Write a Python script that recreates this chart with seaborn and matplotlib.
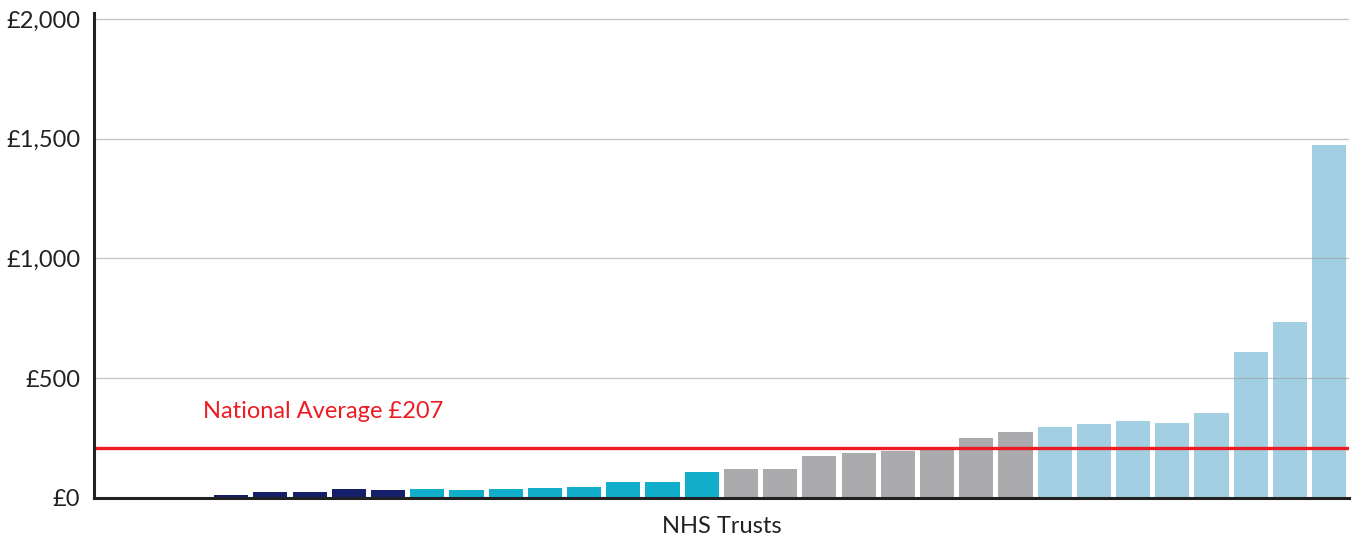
import matplotlib
matplotlib.use("Agg")
import matplotlib.pyplot as plt
import seaborn as sns
import pandas as pd

# Cost per NHS trust, sorted ascending, grouped into quartiles
trust_ids = [f"T{i + 1:02d}" for i in range(32)]
costs = [0, 0, 0, 14, 24, 24, 36, 32,
         36, 32, 36, 43, 47, 68, 68, 110,
         122, 122, 177, 189, 198, 206, 252, 277,
         298, 310, 323, 314, 356, 611, 736, 1475]
quartiles = ["Q1"] * 8 + ["Q2"] * 8 + ["Q3"] * 8 + ["Q4"] * 8
quartile_colors = {"Q1": "#16206a", "Q2": "#10aecb", "Q3": "#ababad", "Q4": "#a2d0e2"}

national_average = 207
y_ticks = [0, 500, 1000, 1500, 2000]
y_tick_labels = ["£0", "£500", "£1,000", "£1,500", "£2,000"]

df = pd.DataFrame({"trust": trust_ids, "cost": costs, "quartile": quartiles})

sns.set_theme(style="white")
plt.rcParams["font.family"] = ["Lato", "DejaVu Sans"]

fig = plt.figure(figsize=(13.58, 5.41), dpi=100)
ax = fig.add_axes([0.0692, 0.0795, 0.924, 0.8965])

sns.barplot(data=df, x="trust", y="cost", hue="quartile", palette=quartile_colors,
            order=trust_ids, dodge=False, width=0.87, legend=False,
            linewidth=0, saturation=1, ax=ax, zorder=2)

ax.set_xlim(-0.5, 31.5)
ax.set_ylim(0, 2025)

# horizontal gridlines drawn over the bars
for t in y_ticks[1:]:
    ax.axhline(t, color="#9a9a9a", lw=1.0, alpha=0.55, zorder=3)

ax.axhline(national_average, color="#ed1c24", lw=2.4, zorder=4)
ax.text(2.28, 360, f"National Average £{national_average}", color="#ed1c24",
        fontsize=17, ha="left", va="center", zorder=5)

ax.set_yticks(y_ticks)
ax.set_yticklabels(y_tick_labels, fontsize=17, color="#222222")
ax.set_xticks([])
ax.set_xlabel("NHS Trusts", fontsize=17, color="#222222", labelpad=13)
ax.set_ylabel("")
ax.tick_params(axis="y", length=0, pad=10)

for side in ["top", "right"]:
    ax.spines[side].set_visible(False)
for side in ["left", "bottom"]:
    ax.spines[side].set_color("#222222")
    ax.spines[side].set_linewidth(2.2)
    ax.spines[side].set_zorder(6)

fig.savefig("out.png", dpi=100)
